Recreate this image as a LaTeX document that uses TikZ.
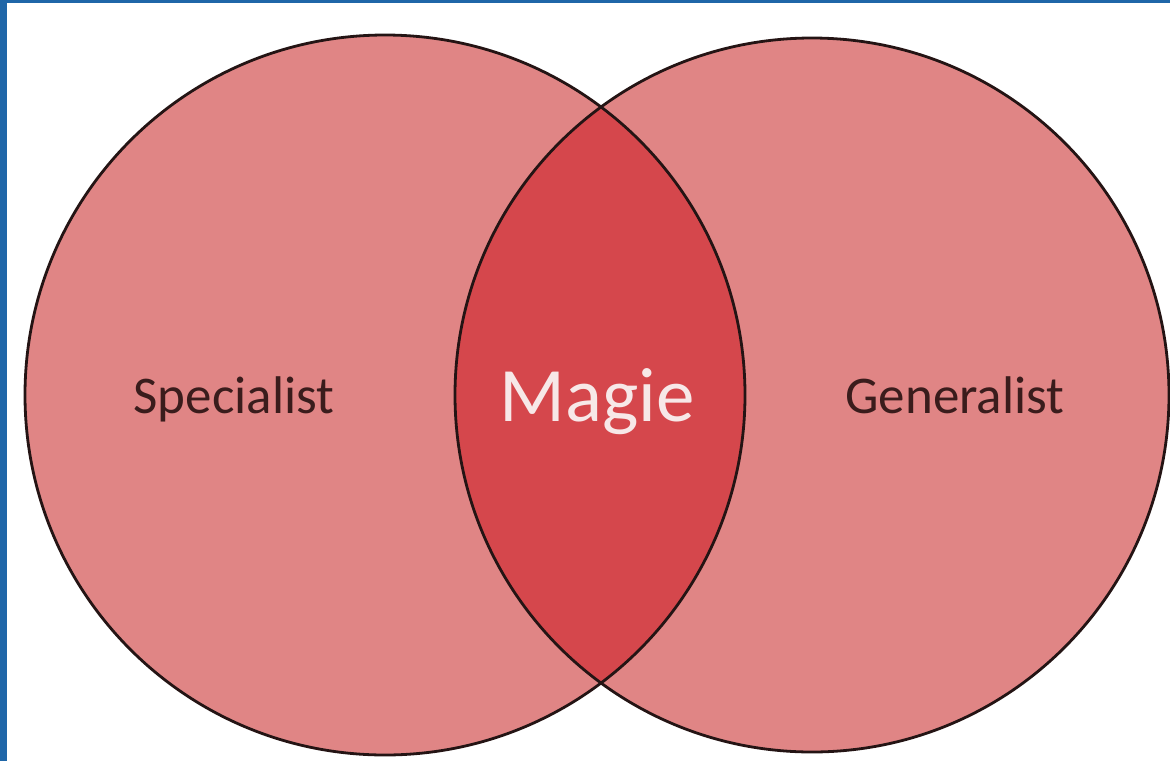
\documentclass[tikz,border=0pt]{standalone}
\usepackage{fontspec}
\setmainfont{Carlito}
\definecolor{circfill}{HTML}{E08585}
\definecolor{lensfill}{HTML}{D5474C}
\definecolor{edge}{HTML}{241414}
\definecolor{labeltext}{HTML}{3A1C1C}
\definecolor{magictext}{HTML}{F7E8E8}
\definecolor{frameblue}{HTML}{1F66A8}
\tikzset{
  setcircle/.style={circle, inner sep=0pt, draw=edge, line width=2.8pt},
  sidelabel/.style={font=\fontsize{53}{60}\selectfont, text=labeltext, anchor=base, inner sep=0pt},
  magiclabel/.style={font=\fontsize{77}{84}\selectfont, text=magictext, anchor=base, inner sep=0pt}
}
\begin{document}
\begin{tikzpicture}[x=1pt,y=-1pt]
\useasboundingbox (0,0) rectangle (1170,761);
\fill[white] (0,0) rectangle (1170,761);
\fill[frameblue] (0,0) rectangle (7,761);
\fill[frameblue] (0,0) rectangle (1170,3);
% fills
\fill[circfill] (385,395) circle (360);
\fill[circfill] (812,395) circle (357);
\begin{scope}
  \clip (385,395) circle (360);
  \fill[lensfill] (812,395) circle (357);
\end{scope}
% outlines
\node[setcircle, minimum size=720pt] (left) at (385,395) {};
\node[setcircle, minimum size=714pt] (right) at (812,395) {};
% labels
\node[sidelabel] (spec) at (234,413) {Specialist};
\node[magiclabel] (magie) at (597,421) {Magie};
\node[sidelabel] (gen) at (955,413) {Generalist};
\end{tikzpicture}
\end{document}
